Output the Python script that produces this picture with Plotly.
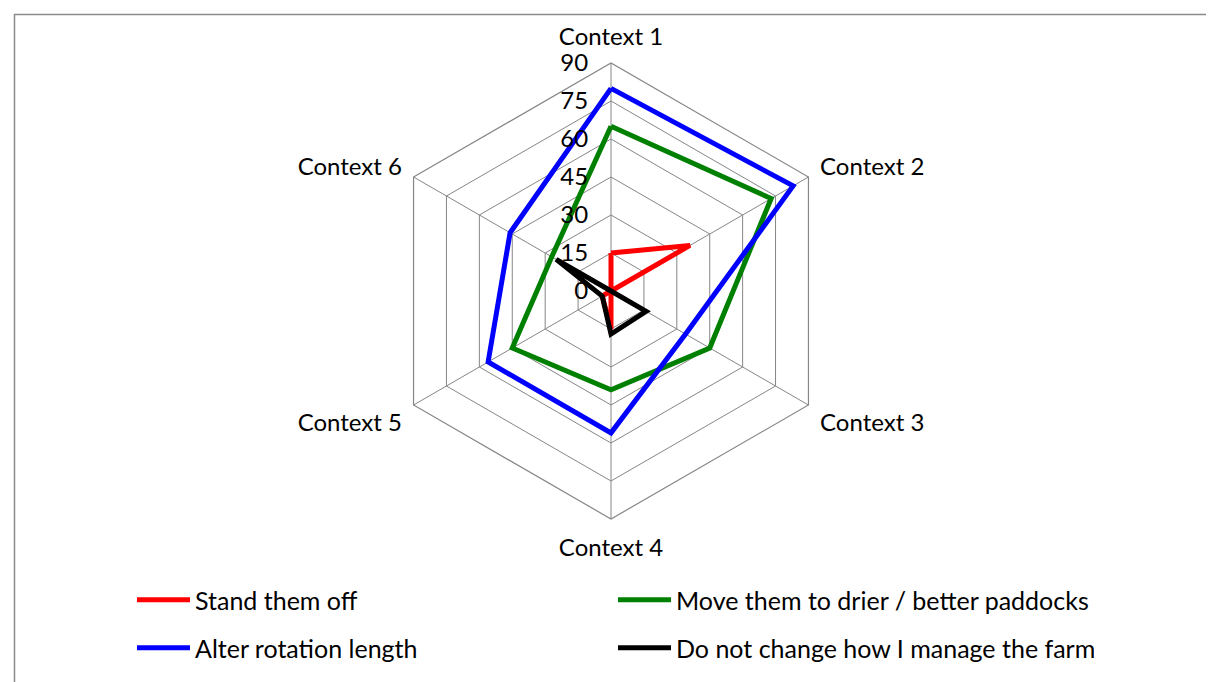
import plotly.graph_objects as go

contexts = ["Context 1", "Context 2", "Context 3", "Context 4", "Context 5", "Context 6"]

stand_off = [15, 36, 0, 15, 4, 0]
move_paddocks = [65, 73, 45, 39, 45, 27]
alter_rotation = [80, 83, 34, 56, 56, 46]
no_change = [0, 0, 16, 17, 4, 25]

series = [
    ("Stand them off", stand_off, "#ff0000", "legend"),
    ("Move them to drier / better paddocks", move_paddocks, "#008000", "legend"),
    ("Alter rotation length", alter_rotation, "#0000ff", "legend2"),
    ("Do not change how I manage the farm", no_change, "#000000", "legend2"),
]

W, H = 1214, 682
# polar centre / radius in pixels (nudged for plotly's own placement)
cx, cy, R = 603, 283, 228
AXFONT = dict(family="Lato", size=24, color="#000000")
LEGFONT = dict(family="Lato", size=25, color="#000000")
GRID = "#868686"

fig = go.Figure()
for name, vals, col, leg in series:
    fig.add_trace(go.Scatterpolar(
        r=vals + vals[:1],
        theta=contexts + contexts[:1],
        mode="lines",
        name=name,
        line=dict(color=col, width=5),
        legend=leg,
    ))

legend_common = dict(
    orientation="h",
    entrywidth=413,
    entrywidthmode="pixels",
    itemwidth=53,
    font=LEGFONT,
    bgcolor="rgba(0,0,0,0)",
    xanchor="left",
    yanchor="middle",
    x=124 / W,
)

fig.update_layout(
    width=W,
    height=H,
    margin=dict(l=0, r=0, t=0, b=0),
    paper_bgcolor="white",
    font=AXFONT,
    polar=dict(
        domain=dict(x=[(cx - R) / W, (cx + R) / W], y=[(H - cy - R) / H, (H - cy + R) / H]),
        gridshape="linear",
        bgcolor="white",
        radialaxis=dict(
            range=[0, 90],
            dtick=15,
            angle=90,
            tickangle=90,
            side="counterclockwise",
            showline=False,
            gridcolor=GRID,
            gridwidth=1.2,
            ticks="outside",
            ticklen=14,
            tickcolor="rgba(0,0,0,0)",
            tickfont=AXFONT,
        ),
        angularaxis=dict(
            rotation=90,
            direction="clockwise",
            showline=True,
            linecolor=GRID,
            linewidth=1.2,
            gridcolor=GRID,
            gridwidth=1.2,
            ticks="outside",
            ticklen=8,
            tickcolor="rgba(0,0,0,0)",
            tickfont=AXFONT,
        ),
    ),
    legend=dict(legend_common, y=1 - 592 / H),
    legend2=dict(legend_common, y=1 - 640 / H),
    shapes=[dict(type="rect", xref="paper", yref="paper",
                 x0=6.5 / W, x1=1.02, y0=-0.02, y1=1 - 6.5 / H,
                 line=dict(color="#8a8a8a", width=1.5))],
)

fig.write_html("out.html")
